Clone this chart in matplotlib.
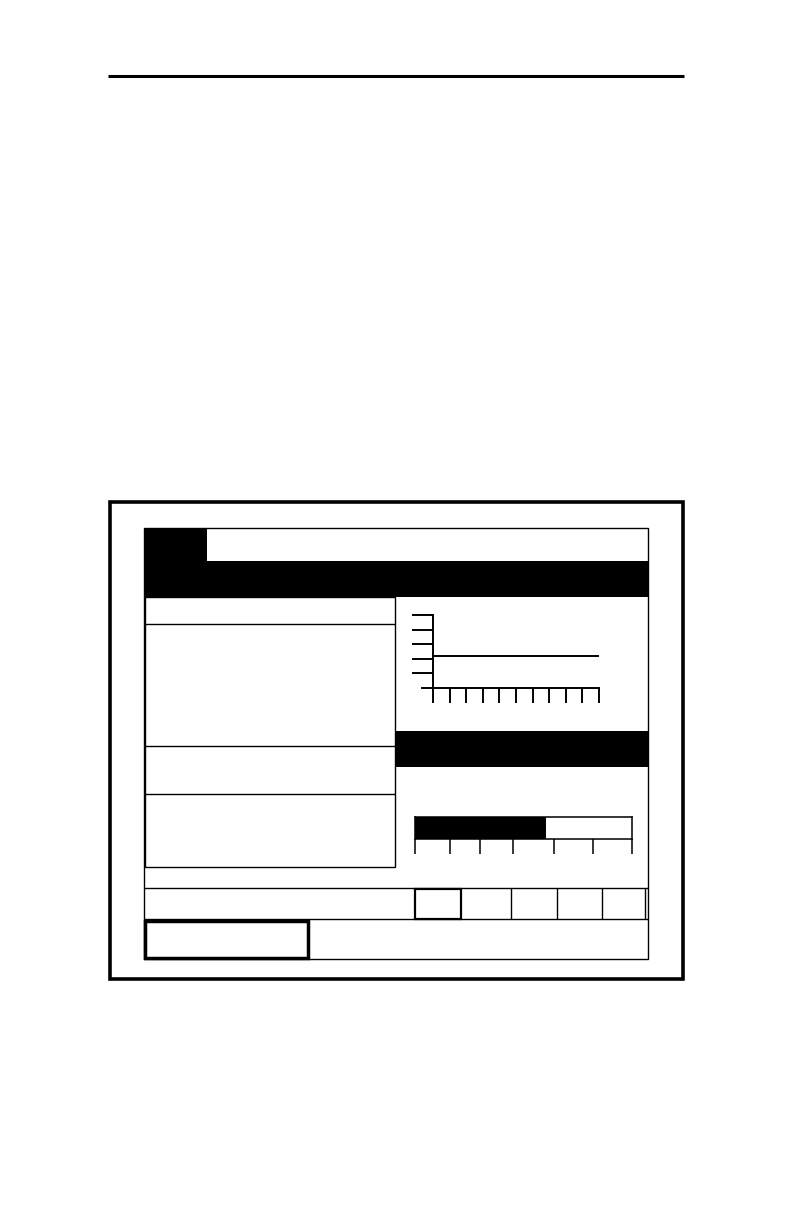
import matplotlib
matplotlib.use("Agg")
import matplotlib.pyplot as plt
from matplotlib.patches import Rectangle

# ---------------- data ----------------
# trend mini-graph
trend_x = [0, 1, 2, 3, 4, 5, 6, 7, 8, 9, 10]
trend_values = [2.2, 2.2, 2.2, 2.2, 2.2, 2.2, 2.2, 2.2, 2.2, 2.2, 2.2]
trend_yticks = [1, 2, 3, 4, 5]
trend_xticks = [0, 1, 2, 3, 4, 5, 6, 7, 8, 9, 10]

# horizontal gauge (percent)
gauge_value = 60
gauge_ticks = [0, 16, 30, 45, 64, 82, 100]

# ---------------- figure ----------------
W, H = 792, 1224
fig = plt.figure(figsize=(W / 100, H / 100), dpi=100)
fig.patch.set_facecolor("white")
bg = fig.add_axes([0, 0, 1, 1])
bg.set_xlim(0, W)
bg.set_ylim(H, 0)
bg.axis("off")

K = "black"


def box_axes(x0, y0, x1, y1):
    return fig.add_axes([x0 / W, 1 - y1 / H, (x1 - x0) / W, (y1 - y0) / H])


def line(xs, ys, lw=1.0):
    bg.plot(xs, ys, color=K, lw=lw, solid_capstyle="butt")


def rect(x0, y0, x1, y1, fill=False, lw=1.0):
    bg.add_patch(Rectangle((x0, y0), x1 - x0, y1 - y0, facecolor=K if fill else "none",
                           edgecolor=K, lw=lw if not fill else 0))


# page top rule
line([108, 684], [76.3, 76.3], lw=2.2)

# outer frame
rect(109.5, 502, 682.5, 978.5, lw=2.6)

# screen outline
rect(143.5, 528, 647.5, 959, lw=1.0)

# title tab and header band
rect(145, 528, 207, 562, fill=True)
rect(143.5, 561, 647.5, 597, fill=True)

# left panel
rect(145.3, 597, 394.7, 867, lw=1.0)
line([145.3, 394.7], [624, 624])
line([145.3, 394.7], [746, 746])
line([145.3, 394.7], [794, 794])

# second band on right
rect(394.5, 730.5, 649, 767, fill=True)

# soft-key row
line([143.5, 647.5], [887.5, 887.5])
line([143.5, 647.5], [919, 919])
for xk in [511, 557, 602, 645]:
    line([xk, xk], [887.5, 919])
rect(414.5, 888.5, 461, 918.5, lw=1.6)

# bottom thick box
rect(145.2, 921.2, 307.5, 957.8, lw=2.5)

# ---------------- trend graph ----------------
g = box_axes(422, 615, 599, 688)
g.plot(trend_x, trend_values, color=K, lw=1.4, solid_capstyle="butt")
g.set_xlim(-0.66, 10)
g.set_ylim(0, 5)
g.set_facecolor("none")
for s in ["top", "right"]:
    g.spines[s].set_visible(False)
g.spines["left"].set_position(("data", 0))
g.spines["left"].set_linewidth(1.4)
g.spines["bottom"].set_linewidth(1.4)
g.set_xticks(trend_xticks)
g.set_yticks(trend_yticks)
g.tick_params(axis="x", direction="out", length=11, width=1.4, color=K, labelbottom=False)
g.tick_params(axis="y", direction="out", length=15, width=1.4, color=K, labelleft=False)

# ---------------- gauge ----------------
ga = box_axes(415.3, 817.3, 632.3, 839.3)
ga.barh([0], [gauge_value], height=1.0, color=K, left=0)
ga.set_xlim(0, 100)
ga.set_ylim(-0.5, 0.5)
ga.set_facecolor("none")
for s in ga.spines.values():
    s.set_linewidth(1.1)
ga.set_yticks([])
ga.set_xticks(gauge_ticks)
ga.tick_params(axis="x", direction="out", length=11, width=1.1, color=K, labelbottom=False)

fig.savefig("out.png", dpi=100, facecolor="white")
